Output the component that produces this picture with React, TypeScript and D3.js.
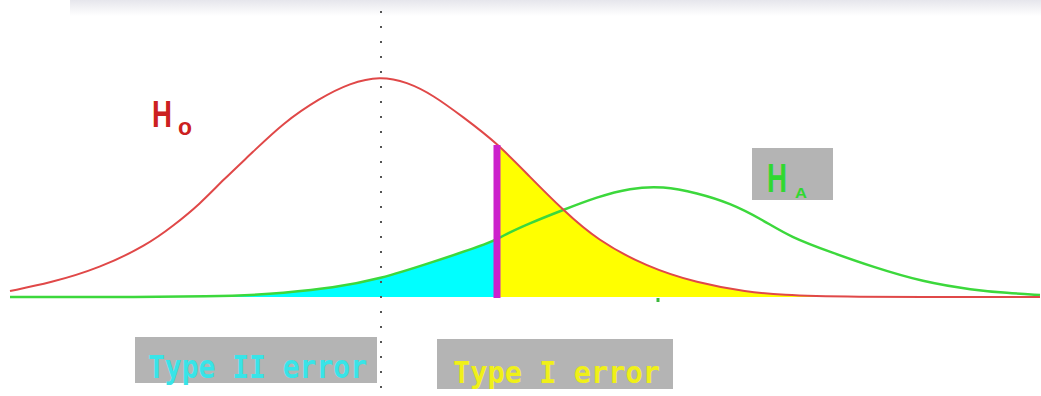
import React, { useEffect, useRef } from "react";
import * as d3 from "d3";

const W = 1041;
const H = 396;

// test statistic, H0 mean at 0
const h0X = [-3.7, -3.3, -2.8, -2.33, -2.07, -1.8, -1.57, -1.27, -0.97, -0.6, -0.3, 0, 0.27, 0.53, 0.83, 1.17, 1.5, 1.83, 2.17, 2.67, 3.17, 3.67, 4.03, 4.53, 6.6];
const h0Y = [0.012, 0.028, 0.058, 0.104, 0.142, 0.186, 0.234, 0.29, 0.348, 0.398, 0.428, 0.442, 0.43, 0.404, 0.36, 0.308, 0.24, 0.174, 0.114, 0.06, 0.028, 0.01, 0.004, 0, 0];
const haX = [-3.7, -1.45, -0.97, -0.47, 0, 0.5, 1.13, 1.2, 1.5, 1.83, 2.17, 2.5, 2.83, 3.17, 3.5, 3.83, 4.1, 4.53, 4.93, 5.43, 5.93, 6.27, 6.6];
const haY = [0, 0, 0.008, 0.018, 0.036, 0.068, 0.11, 0.12, 0.148, 0.174, 0.2, 0.218, 0.222, 0.208, 0.188, 0.154, 0.12, 0.088, 0.06, 0.03, 0.014, 0.008, 0.004];
const critical = 1.17;
const h0Mean = 0;
const haMean = 2.78;

export default function App() {
  const ref = useRef<SVGSVGElement>(null);

  useEffect(() => {
    const svg = d3.select(ref.current);
    svg.selectAll("*").remove();

    const x = d3.scaleLinear().domain([-3.7, 6.6]).range([10, 1040]);
    const y = d3.scaleLinear().domain([0, 0.44]).range([297, 77]);

    const h0 = h0X.map((v, i) => [v, h0Y[i]] as [number, number]);
    const ha = haX.map((v, i) => [v, haY[i]] as [number, number]);

    const line = d3.line<[number, number]>()
      .x(d => x(d[0]))
      .y(d => y(d[1]))
      .curve(d3.curveBasis);
    const area = d3.area<[number, number]>()
      .x(d => x(d[0]))
      .y0(y(0))
      .y1(d => y(d[1]))
      .curve(d3.curveBasis);

    const defs = svg.append("defs");
    const grad = defs.append("linearGradient")
      .attr("id", "topband").attr("x1", 0).attr("y1", 0).attr("x2", 0).attr("y2", 1);
    grad.append("stop").attr("offset", "0%").attr("stop-color", "#e6e6ec");
    grad.append("stop").attr("offset", "100%").attr("stop-color", "#ffffff");

    defs.append("clipPath").attr("id", "leftOfCrit")
      .append("rect").attr("x", 0).attr("y", 0).attr("width", x(critical) - 3).attr("height", H);
    defs.append("clipPath").attr("id", "rightOfCrit")
      .append("rect").attr("x", x(critical)).attr("y", 0).attr("width", W).attr("height", H);

    svg.append("rect").attr("width", W).attr("height", H).attr("fill", "#fff");
    svg.append("rect")
      .attr("x", 70).attr("y", 0).attr("width", W - 70).attr("height", 16)
      .attr("fill", "url(#topband)");

    // error regions
    svg.append("path").datum(ha)
      .attr("d", area).attr("fill", "#00ffff")
      .attr("clip-path", "url(#leftOfCrit)");
    svg.append("path").datum(h0)
      .attr("d", area).attr("fill", "#ffff00")
      .attr("clip-path", "url(#rightOfCrit)");

    // dotted line at H0 mean
    svg.append("line")
      .attr("x1", x(h0Mean) + 1).attr("x2", x(h0Mean) + 1)
      .attr("y1", 11).attr("y2", H)
      .attr("stroke", "#555")
      .attr("stroke-width", 2)
      .attr("stroke-dasharray", "2,13");

    svg.append("path").datum(ha)
      .attr("d", line).attr("fill", "none")
      .attr("stroke", "#3cd83c").attr("stroke-width", 2.5);
    svg.append("path").datum(h0)
      .attr("d", line).attr("fill", "none")
      .attr("stroke", "#e04848").attr("stroke-width", 2);

    // critical value
    const critTop = h0Y[h0X.indexOf(critical)];
    svg.append("line")
      .attr("x1", x(critical)).attr("x2", x(critical))
      .attr("y1", y(0) + 1).attr("y2", y(critTop) + 2)
      .attr("stroke", "#cc22cc").attr("stroke-width", 7);

    // HA mean mark
    svg.append("line")
      .attr("x1", x(haMean)).attr("x2", x(haMean))
      .attr("y1", y(0) + 1).attr("y2", y(0) + 5)
      .attr("stroke", "#3cb83c").attr("stroke-width", 3);

    // H0 label
    svg.append("text")
      .attr("x", 152).attr("y", 127)
      .attr("font-family", "Liberation Sans, sans-serif")
      .attr("font-size", 37).attr("font-weight", "bold")
      .attr("textLength", 20).attr("lengthAdjust", "spacingAndGlyphs")
      .attr("fill", "#cc2020").text("H");
    svg.append("text")
      .attr("x", 178).attr("y", 135)
      .attr("font-family", "Liberation Sans, sans-serif")
      .attr("font-size", 24).attr("font-weight", "bold")
      .attr("textLength", 14).attr("lengthAdjust", "spacingAndGlyphs")
      .attr("fill", "#cc2020").text("o");

    // HA label
    svg.append("rect")
      .attr("x", 752).attr("y", 148).attr("width", 81).attr("height", 52)
      .attr("fill", "#b4b4b4");
    svg.append("text")
      .attr("x", 767).attr("y", 192)
      .attr("font-family", "Liberation Sans, sans-serif")
      .attr("font-size", 41).attr("font-weight", "bold")
      .attr("textLength", 20).attr("lengthAdjust", "spacingAndGlyphs")
      .attr("fill", "#30d830").text("H");
    svg.append("text")
      .attr("x", 795).attr("y", 198)
      .attr("font-family", "Liberation Sans, sans-serif")
      .attr("font-size", 15).attr("font-weight", "bold")
      .attr("textLength", 12).attr("lengthAdjust", "spacingAndGlyphs")
      .attr("fill", "#30d830").text("A");

    // error boxes
    const boxes = [
      { x: 135, y: 337, w: 242, h: 46, tx: 148, ty: 378, tl: 219, fs: 32, color: "#38e4e8", label: "Type II error" },
      { x: 437, y: 339, w: 236, h: 50, tx: 453, ty: 383, tl: 207, fs: 31, color: "#f0f018", label: "Type I error" },
    ];
    boxes.forEach(b => {
      svg.append("rect")
        .attr("x", b.x).attr("y", b.y).attr("width", b.w).attr("height", b.h)
        .attr("fill", "#b4b4b4");
      svg.append("text")
        .attr("x", b.tx).attr("y", b.ty)
        .attr("font-family", "DejaVu Sans Mono, monospace")
        .attr("font-size", b.fs).attr("font-weight", "bold")
        .attr("textLength", b.tl).attr("lengthAdjust", "spacingAndGlyphs")
        .attr("fill", b.color).text(b.label);
    });
  }, []);

  return (
    <svg
      ref={ref}
      width={W}
      height={H}
      style={{ position: "absolute", left: 0, top: 0, display: "block" }}
    />
  );
}
